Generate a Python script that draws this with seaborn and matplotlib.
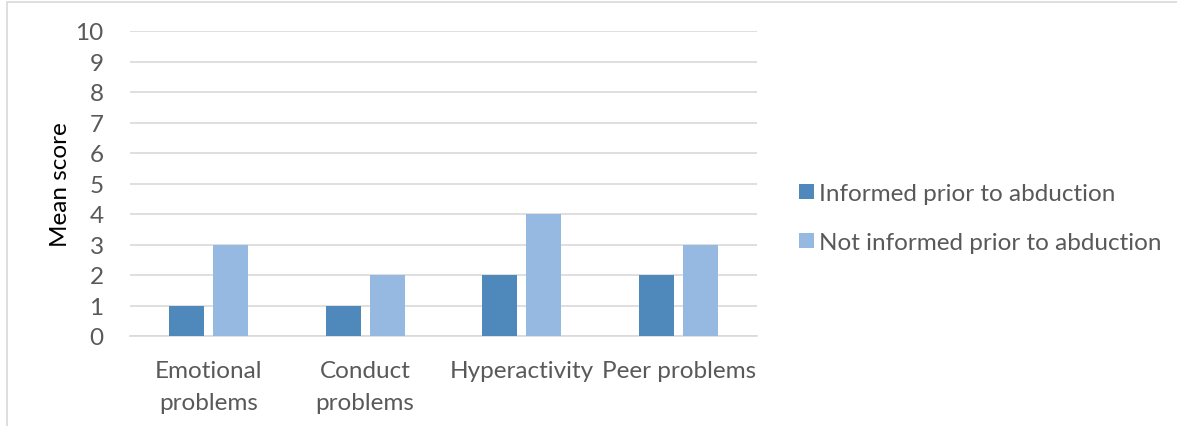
import pandas as pd
import matplotlib.pyplot as plt
import seaborn as sns
from matplotlib.patches import Patch, Rectangle

categories = ['Emotional\nproblems', 'Conduct\nproblems', 'Hyperactivity', 'Peer problems']
informed = [1, 1, 2, 2]
not_informed = [3, 2, 4, 3]
series = ['Informed prior to abduction', 'Not informed prior to abduction']
colors = ['#4f88bb', '#95b9e0']

df = pd.DataFrame({
    'Category': categories * 2,
    'Score': informed + not_informed,
    'Group': [series[0]] * 4 + [series[1]] * 4,
})

sns.set_style('white')
plt.rcParams['font.family'] = ['Lato', 'DejaVu Sans']
text_col = '#595959'
fs = 17.5

fig = plt.figure(figsize=(11.77, 4.27), dpi=100)
ax = fig.add_axes([130 / 1177, 1 - 337 / 427, 627 / 1177, 305 / 427])

sns.barplot(data=df, x='Category', y='Score', hue='Group', palette=colors,
            width=0.56, gap=0.2, errorbar=None, ax=ax, legend=False,
            saturation=1, linewidth=0, zorder=3)

ax.set_ylim(0, 10)
ax.set_xlim(-0.5, 3.5)
ax.set_yticks(range(0, 11))
ax.yaxis.grid(True, color='#d9d9d9', linewidth=1.2, zorder=0)
ax.set_axisbelow(True)
for s in ['top', 'right', 'left']:
    ax.spines[s].set_visible(False)
ax.spines['bottom'].set_color('#d9d9d9')
ax.spines['bottom'].set_linewidth(1.2)
ax.tick_params(axis='both', length=0, labelsize=fs, colors=text_col)
ax.tick_params(axis='x', pad=17)
ax.tick_params(axis='y', pad=19)
for t in ax.get_xticklabels():
    t.set_linespacing(1.65)
ax.set_xlabel('')
ax.set_ylabel('Mean score', fontsize=fs, color='black', labelpad=3)

handles = [Patch(facecolor=c, edgecolor='none') for c in colors]
leg = fig.legend(handles, series, loc='center left', bbox_to_anchor=(777 / 1177, 1 - 219 / 427),
                 frameon=False, fontsize=fs, handlelength=0.62, handleheight=0.62,
                 handletextpad=0.2, labelspacing=1.15)
for t in leg.get_texts():
    t.set_color(text_col)

fig.patches.append(Rectangle((7 / 1177, -0.1), 1.2, 1.1 - 3 / 427,
                             transform=fig.transFigure, fill=False,
                             edgecolor='#d9d9d9', linewidth=1.2))

fig.savefig('out.png', dpi=100)
